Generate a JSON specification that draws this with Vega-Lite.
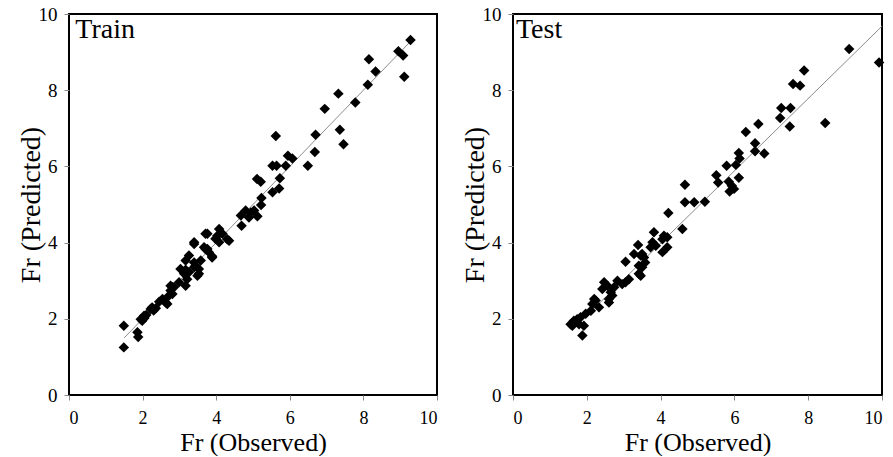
{
  "$schema": "https://vega.github.io/schema/vega-lite/v6.json",
  "background": "white",
  "padding": {"left": 16, "top": 4, "right": 0, "bottom": 0},
  "bounds": "flush",
  "spacing": 76,
  "config": {
    "view": {"stroke": "black", "strokeWidth": 2},
    "axis": {
      "domain": false,
      "grid": false,
      "ticks": true,
      "tickColor": "#888888",
      "tickSize": 5,
      "labelFont": "Liberation Serif",
      "labelFontSize": 19,
      "labelColor": "black",
      "titleFont": "Liberation Serif",
      "titleFontSize": 28,
      "titleFontWeight": "normal",
      "titleColor": "black"
    },
    "axisX": {"labelPadding": 9, "labelFontSize": 18, "titlePadding": 2, "titleFontSize": 26},
    "axisY": {"labelPadding": 7, "titlePadding": -7}
  },
  "datasets": {
    "train": [
      {"observed":1.49,"predicted":1.82},{"observed":1.49,"predicted":1.25},{"observed":1.86,"predicted":1.65},{"observed":1.88,"predicted":1.52},
      {"observed":1.95,"predicted":1.99},{"observed":2.04,"predicted":2.08},{"observed":1.99,"predicted":1.95},{"observed":2.05,"predicted":2.02},
      {"observed":2.10,"predicted":2.10},{"observed":2.22,"predicted":2.26},{"observed":2.26,"predicted":2.30},{"observed":2.36,"predicted":2.28},
      {"observed":2.30,"predicted":2.22},{"observed":2.54,"predicted":2.52},{"observed":2.58,"predicted":2.48},{"observed":2.63,"predicted":2.43},
      {"observed":2.67,"predicted":2.39},{"observed":2.45,"predicted":2.45},{"observed":2.76,"predicted":2.74},{"observed":2.81,"predicted":2.65},
      {"observed":2.72,"predicted":2.61},{"observed":2.85,"predicted":2.83},{"observed":2.76,"predicted":2.87},{"observed":2.81,"predicted":2.83},
      {"observed":2.99,"predicted":2.96},{"observed":3.17,"predicted":2.87},{"observed":3.21,"predicted":3.04},{"observed":3.03,"predicted":3.31},
      {"observed":3.13,"predicted":3.18},{"observed":3.26,"predicted":3.22},{"observed":3.17,"predicted":3.29},{"observed":3.49,"predicted":3.13},
      {"observed":3.40,"predicted":3.48},{"observed":3.44,"predicted":3.39},{"observed":3.53,"predicted":3.31},{"observed":3.40,"predicted":3.35},
      {"observed":3.53,"predicted":3.18},{"observed":3.17,"predicted":3.53},{"observed":3.26,"predicted":3.66},{"observed":3.58,"predicted":3.53},
      {"observed":3.40,"predicted":3.96},{"observed":3.40,"predicted":4.01},{"observed":3.71,"predicted":3.83},{"observed":3.80,"predicted":3.75},
      {"observed":3.89,"predicted":3.61},{"observed":3.89,"predicted":3.64},{"observed":3.76,"predicted":4.23},{"observed":3.71,"predicted":4.23},
      {"observed":3.67,"predicted":3.88},{"observed":3.76,"predicted":3.83},{"observed":3.98,"predicted":4.10},{"observed":4.03,"predicted":4.18},
      {"observed":4.08,"predicted":4.36},{"observed":4.17,"predicted":4.23},{"observed":4.08,"predicted":4.01},{"observed":4.30,"predicted":4.09},
      {"observed":4.35,"predicted":4.05},{"observed":4.67,"predicted":4.71},{"observed":4.80,"predicted":4.84},{"observed":4.94,"predicted":4.79},
      {"observed":5.03,"predicted":4.84},{"observed":4.89,"predicted":4.66},{"observed":5.12,"predicted":4.69},{"observed":4.69,"predicted":4.44},
      {"observed":5.22,"predicted":4.99},{"observed":5.23,"predicted":5.17},{"observed":5.53,"predicted":5.32},{"observed":5.71,"predicted":5.42},
      {"observed":5.11,"predicted":5.67},{"observed":5.21,"predicted":5.60},{"observed":5.73,"predicted":5.69},{"observed":5.53,"predicted":6.02},
      {"observed":5.64,"predicted":6.02},{"observed":5.89,"predicted":6.02},{"observed":5.95,"predicted":6.28},{"observed":6.07,"predicted":6.21},
      {"observed":5.62,"predicted":6.80},{"observed":6.49,"predicted":6.02},{"observed":6.68,"predicted":6.38},{"observed":6.70,"predicted":6.83},
      {"observed":6.95,"predicted":7.51},{"observed":7.32,"predicted":7.91},{"observed":7.36,"predicted":6.96},{"observed":7.46,"predicted":6.58},
      {"observed":7.78,"predicted":7.68},{"observed":8.12,"predicted":8.14},{"observed":8.33,"predicted":8.49},{"observed":8.15,"predicted":8.81},
      {"observed":8.95,"predicted":9.02},{"observed":9.08,"predicted":8.91},{"observed":9.11,"predicted":8.35},{"observed":9.28,"predicted":9.32}
    ],
    "test": [
      {"observed":1.56,"predicted":1.86},{"observed":1.61,"predicted":1.82},{"observed":1.65,"predicted":1.95},{"observed":1.74,"predicted":1.99},
      {"observed":1.79,"predicted":1.86},{"observed":1.83,"predicted":2.04},{"observed":1.92,"predicted":1.82},{"observed":1.88,"predicted":1.56},
      {"observed":1.97,"predicted":2.13},{"observed":2.11,"predicted":2.21},{"observed":2.33,"predicted":2.30},{"observed":2.20,"predicted":2.52},
      {"observed":2.15,"predicted":2.39},{"observed":2.24,"predicted":2.48},{"observed":2.42,"predicted":2.78},{"observed":2.60,"predicted":2.52},
      {"observed":2.60,"predicted":2.43},{"observed":2.65,"predicted":2.70},{"observed":2.69,"predicted":2.61},{"observed":2.47,"predicted":2.96},
      {"observed":2.56,"predicted":2.87},{"observed":2.74,"predicted":2.83},{"observed":2.83,"predicted":3.00},{"observed":2.96,"predicted":2.91},
      {"observed":3.05,"predicted":2.96},{"observed":3.14,"predicted":3.04},{"observed":3.41,"predicted":3.18},{"observed":3.46,"predicted":3.13},
      {"observed":3.41,"predicted":3.39},{"observed":3.50,"predicted":3.35},{"observed":3.05,"predicted":3.50},{"observed":3.28,"predicted":3.70},
      {"observed":3.46,"predicted":3.66},{"observed":3.58,"predicted":3.48},{"observed":3.55,"predicted":3.61},{"observed":3.39,"predicted":3.94},
      {"observed":3.50,"predicted":3.70},{"observed":3.73,"predicted":3.88},{"observed":3.78,"predicted":4.01},{"observed":3.87,"predicted":3.92},
      {"observed":4.18,"predicted":3.88},{"observed":4.05,"predicted":3.75},{"observed":4.05,"predicted":4.09},{"observed":4.09,"predicted":4.18},
      {"observed":4.18,"predicted":4.14},{"observed":3.82,"predicted":4.27},{"observed":4.59,"predicted":4.36},{"observed":4.21,"predicted":4.78},
      {"observed":4.66,"predicted":5.06},{"observed":4.91,"predicted":5.06},{"observed":5.20,"predicted":5.07},{"observed":4.66,"predicted":5.52},
      {"observed":5.51,"predicted":5.77},{"observed":5.56,"predicted":5.58},{"observed":5.85,"predicted":5.60},{"observed":5.93,"predicted":5.49},
      {"observed":5.99,"predicted":5.41},{"observed":5.87,"predicted":5.34},{"observed":5.79,"predicted":6.02},{"observed":6.04,"predicted":6.04},
      {"observed":6.12,"predicted":5.70},{"observed":6.12,"predicted":6.35},{"observed":6.14,"predicted":6.21},{"observed":6.56,"predicted":6.61},
      {"observed":6.56,"predicted":6.40},{"observed":6.81,"predicted":6.34},{"observed":6.31,"predicted":6.90},{"observed":6.65,"predicted":7.11},
      {"observed":7.24,"predicted":7.27},{"observed":7.27,"predicted":7.53},{"observed":7.52,"predicted":7.53},{"observed":7.50,"predicted":7.05},
      {"observed":8.46,"predicted":7.14},{"observed":7.59,"predicted":8.16},{"observed":7.78,"predicted":8.12},{"observed":7.89,"predicted":8.52},
      {"observed":9.11,"predicted":9.08},{"observed":9.92,"predicted":8.73}
    ],
    "trainLine": [{"observed":1.5,"predicted":1.5},{"observed":9.3,"predicted":9.3}],
    "testLine": [{"observed":1.7,"predicted":1.8},{"observed":10,"predicted":9.68}],
    "trainLabel": [{"panel": "Train"}],
    "testLabel": [{"panel": "Test"}]
  },
  "hconcat": [
    {
      "width": 368,
      "height": 381,
      "layer": [
        {
          "data": {"name": "trainLine"},
          "mark": {"type": "line", "color": "#8c8c8c", "strokeWidth": 1},
          "encoding": {
            "x": {"field": "observed", "type": "quantitative", "scale": {"domain": [0, 10], "nice": false}, "axis": {"values": [0, 2, 4, 6, 8, 10], "title": "Fr (Observed)"}},
            "y": {"field": "predicted", "type": "quantitative", "scale": {"domain": [0, 10], "nice": false}, "axis": {"values": [0, 2, 4, 6, 8, 10], "title": "Fr (Predicted)"}}
          }
        },
        {
          "data": {"name": "train"},
          "mark": {"type": "point", "shape": "diamond", "filled": true, "color": "black", "opacity": 1, "size": 110},
          "encoding": {
            "x": {"field": "observed", "type": "quantitative"},
            "y": {"field": "predicted", "type": "quantitative"}
          }
        },
        {
          "data": {"name": "trainLabel"},
          "mark": {"type": "text", "font": "Liberation Serif", "fontSize": 28, "align": "left", "baseline": "alphabetic", "color": "black"},
          "encoding": {
            "x": {"datum": 0.17, "type": "quantitative"},
            "y": {"datum": 9.37, "type": "quantitative"},
            "text": {"field": "panel", "type": "nominal"}
          }
        }
      ]
    },
    {
      "width": 369,
      "height": 381,
      "layer": [
        {
          "data": {"name": "testLine"},
          "mark": {"type": "line", "color": "#8c8c8c", "strokeWidth": 1},
          "encoding": {
            "x": {"field": "observed", "type": "quantitative", "scale": {"domain": [0, 10], "nice": false}, "axis": {"values": [0, 2, 4, 6, 8, 10], "title": "Fr (Observed)"}},
            "y": {"field": "predicted", "type": "quantitative", "scale": {"domain": [0, 10], "nice": false}, "axis": {"values": [0, 2, 4, 6, 8, 10], "title": "Fr (Predicted)"}}
          }
        },
        {
          "data": {"name": "test"},
          "mark": {"type": "point", "shape": "diamond", "filled": true, "color": "black", "opacity": 1, "size": 110},
          "encoding": {
            "x": {"field": "observed", "type": "quantitative"},
            "y": {"field": "predicted", "type": "quantitative"}
          }
        },
        {
          "data": {"name": "testLabel"},
          "mark": {"type": "text", "font": "Liberation Serif", "fontSize": 28, "align": "left", "baseline": "alphabetic", "color": "black"},
          "encoding": {
            "x": {"datum": 0.08, "type": "quantitative"},
            "y": {"datum": 9.37, "type": "quantitative"},
            "text": {"field": "panel", "type": "nominal"}
          }
        }
      ]
    }
  ]
}
